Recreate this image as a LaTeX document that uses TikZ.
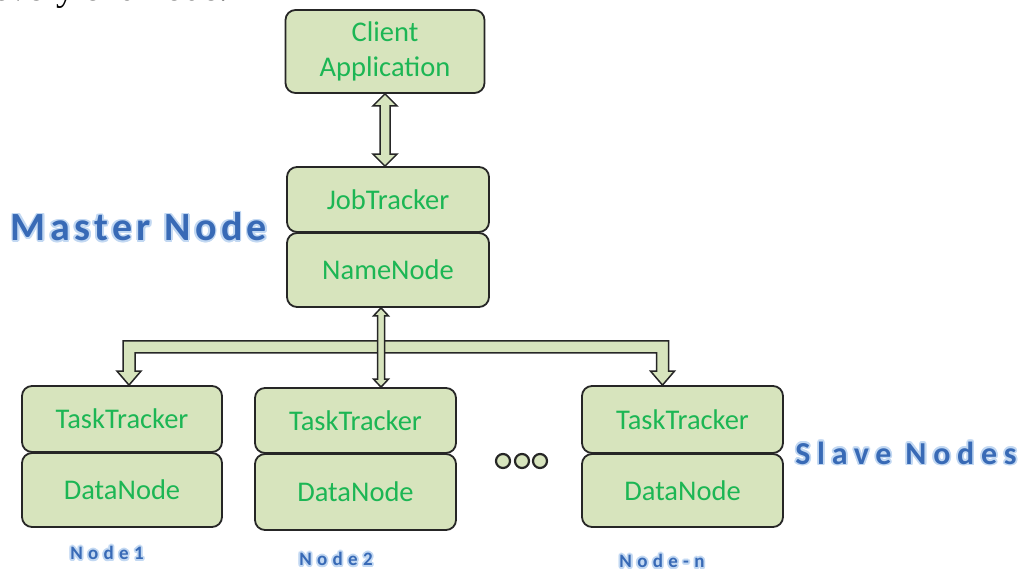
\documentclass[tikz,border=0pt]{standalone}
\usepackage{fontspec}
\setmainfont{Carlito}
\newfontfamily\serif{Liberation Serif}
\newfontfamily\lblfont{Carlito}
\usetikzlibrary{calc}

\definecolor{boxfill}{RGB}{215,228,189}
\definecolor{boxline}{RGB}{38,38,38}
\definecolor{boxtext}{RGB}{28,182,84}
\definecolor{lblblue}{RGB}{56,106,182}
\definecolor{halo}{RGB}{194,216,242}

\tikzset{
  unit/.style={draw=boxline, fill=boxfill, line width=1.8pt, rounded corners=10pt,
    text=boxtext, font=\fontsize{28.5}{35}\selectfont, align=center, inner sep=0pt},
  fatarrow/.style={draw=boxline, fill=boxfill, line width=1.5pt, line join=miter},
  biglabel/.style={text=lblblue, font=\lblfont\bfseries\fontsize{40}{44}\selectfont\addfontfeature{LetterSpace=11}, inner sep=0pt},
  midlabel/.style={text=lblblue, font=\lblfont\bfseries\fontsize{32}{36}\selectfont\addfontfeature{LetterSpace=21}, inner sep=0pt},
  smalllabel/.style={text=lblblue, font=\lblfont\bfseries\fontsize{19}{22}\selectfont\addfontfeature{LetterSpace=28}, inner sep=0pt},
  dot/.style={draw=boxline, fill=boxfill, line width=2.2pt}
}

% blue caption with a soft light halo behind it
\newcommand\haloed[4]{%
  \foreach \a in {0,30,...,330}{\node[#3, text=halo] at ($(#2)+(\a:1.8)$) {#4};}
  \node[#3] (#1) at (#2) {#4};}

\begin{document}
\begin{tikzpicture}[x=1pt, y=-1pt]
\useasboundingbox (0,0) rectangle (1021,569);

% tail of the running text above the figure
\begin{scope}
  \clip (0,0) rectangle (1021,569);
  \node[anchor=base east, inner sep=0pt, font=\serif\fontsize{37}{40}\selectfont] (prose) at (228,1) {every end node.};
\end{scope}

% master side
\node[unit, minimum width=199, minimum height=83] (client) at (385,51.5) {Client\\Application};
\node[unit, minimum width=202, minimum height=65] (job) at (388,199.5) {JobTracker};
\node[unit, minimum width=202, minimum height=74] (name) at (388,270) {NameNode};

% slave units
\node[unit, minimum width=200, minimum height=66] (tt1) at (122,419) {TaskTracker};
\node[unit, minimum width=200, minimum height=74] (dn1) at (122,490) {DataNode};
\node[unit, minimum width=201, minimum height=65] (tt2) at (355.5,420.5) {TaskTracker};
\node[unit, minimum width=201, minimum height=76] (dn2) at (355.5,492) {DataNode};
\node[unit, minimum width=201, minimum height=67] (ttn) at (682.5,419.5) {TaskTracker};
\node[unit, minimum width=201, minimum height=73] (dnn) at (682.5,490.5) {DataNode};

% ellipsis between the second and the last slave
\foreach \i/\x in {1/503,2/522,3/540}{\node[dot, circle, minimum size=14, inner sep=0pt] (dot\i) at (\x,461) {};}

% client <-> job tracker
\coordinate (ca) at (client.south);
\coordinate (cb) at (ca |- job.north);
\draw[fatarrow] (ca) -- ($(ca)+(12,12)$) -- ($(ca)+(5,12)$) -- ($(cb)+(5,-12)$) -- ($(cb)+(12,-12)$)
  -- (cb) -- ($(cb)+(-12,-12)$) -- ($(cb)+(-5,-12)$) -- ($(ca)+(-5,12)$) -- ($(ca)+(-12,12)$) -- cycle;

% distribution bar from the name node to the slaves
\coordinate (hub) at ($(name.south)+(-7,0)$);
\coordinate (hubend) at (hub |- tt2.north);
\coordinate (lt) at ($(tt1.north)+(7,0)$);
\coordinate (rt) at ($(ttn.north)+(-20,0)$);
\coordinate (bt) at ($(hub)+(0,33)$);
\coordinate (bb) at ($(hub)+(0,45)$);
\coordinate (lo) at ($(lt)+(-6,0)$);
\coordinate (li) at ($(lt)+(6,0)$);
\coordinate (ro) at ($(rt)+(6,0)$);
\coordinate (ri) at ($(rt)+(-6,0)$);
\draw[fatarrow] (lo |- bt) -- (ro |- bt) -- ($(rt)+(6,-14)$) -- ($(rt)+(12,-14)$) -- (rt)
  -- ($(rt)+(-12,-14)$) -- ($(rt)+(-6,-14)$) -- (ri |- bb) -- (li |- bb)
  -- ($(lt)+(6,-14)$) -- ($(lt)+(12,-14)$) -- (lt) -- ($(lt)+(-12,-14)$) -- ($(lt)+(-6,-14)$) -- cycle;

% name node <-> middle slave
\draw[fatarrow] (hub) -- ($(hub)+(7.5,8)$) -- ($(hub)+(3.5,8)$) -- ($(hubend)+(3.5,-8)$) -- ($(hubend)+(7.5,-8)$)
  -- (hubend) -- ($(hubend)+(-7.5,-8)$) -- ($(hubend)+(-3.5,-8)$) -- ($(hub)+(-3.5,8)$) -- ($(hub)+(-7.5,8)$) -- cycle;

% captions
\haloed{master}{139,227}{biglabel}{Master Node}
\haloed{slave}{906,453}{midlabel}{Slave Nodes}
\haloed{n1}{107,553}{smalllabel}{Node1}
\haloed{n2}{336,559}{smalllabel}{Node2}
\haloed{nn}{662,561}{smalllabel}{Node-n}
\end{tikzpicture}
\end{document}
